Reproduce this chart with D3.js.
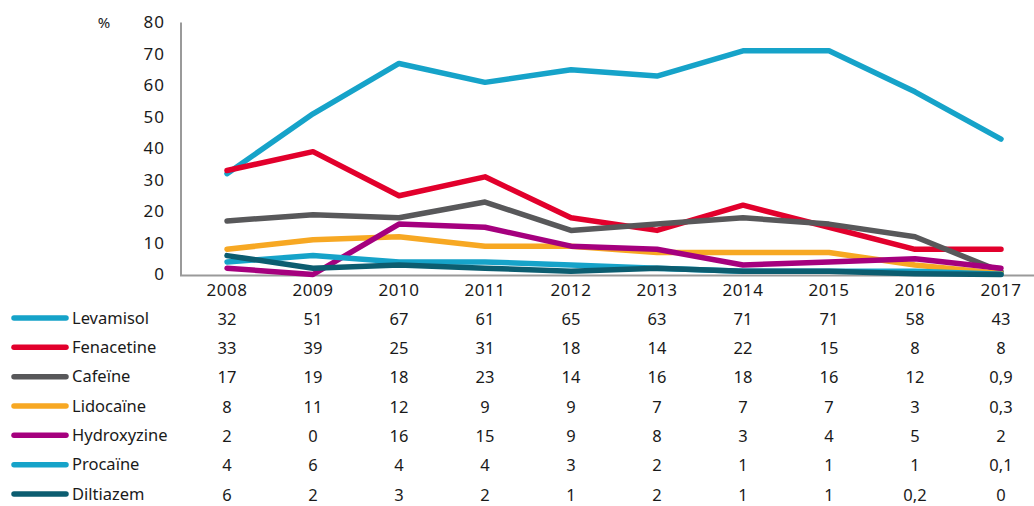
<!DOCTYPE html>
<html><head><meta charset="utf-8">
<script src="https://cdn.jsdelivr.net/npm/d3@7"></script>
<style>
body{margin:0;background:#fff;}
text{font-family:"Noto Sans","Open Sans",sans-serif;fill:#1a1a1a;}
</style></head>
<body><svg id="c" width="1034" height="506"></svg>
<script>
const years = [2008,2009,2010,2011,2012,2013,2014,2015,2016,2017];
const yTicks = [0,10,20,30,40,50,60,70,80];
const names = ["Levamisol","Fenacetine","Cafeïne","Lidocaïne","Hydroxyzine","Procaïne","Diltiazem"];
const colors = ["#16a3c9","#e2002c","#58585a","#f7a823","#a5007e","#16a3c9","#0c5d70"];
const levamisol   = [32,51,67,61,65,63,71,71,58,43];
const fenacetine  = [33,39,25,31,18,14,22,15,8,8];
const cafeine     = [17,19,18,23,14,16,18,16,12,0.9];
const lidocaine   = [8,11,12,9,9,7,7,7,3,0.3];
const hydroxyzine = [2,0,16,15,9,8,3,4,5,2];
const procaine    = [4,6,4,4,3,2,1,1,1,0.1];
const diltiazem   = [6,2,3,2,1,2,1,1,0.2,0];
const series = [levamisol,fenacetine,cafeine,lidocaine,hydroxyzine,procaine,diltiazem];

const svg = d3.select("#c");
const x = d3.scalePoint().domain(years).range([227,1001]);
const y = d3.scaleLinear().domain([0,80]).range([274.5,22.5]);

// axes lines
svg.append("line").attr("x1",181).attr("x2",181).attr("y1",y(80)).attr("y2",y(0)+1)
  .attr("stroke","#9a9a9a").attr("stroke-width",2);
svg.append("line").attr("x1",180).attr("x2",1034).attr("y1",y(0)+1).attr("y2",y(0)+1)
  .attr("stroke","#9a9a9a").attr("stroke-width",2);

// y ticks
svg.selectAll(".yt").data(yTicks).enter().append("text")
  .attr("x",165).attr("y",d=>y(d)).attr("dy","0.35em").attr("text-anchor","end")
  .attr("font-size",17).attr("letter-spacing",1).text(d=>d);
svg.append("text").attr("x",104).attr("y",23).attr("dy","0.35em").attr("text-anchor","middle")
  .attr("font-size",15).text("%");

// year labels
svg.selectAll(".xt").data(years).enter().append("text")
  .attr("x",d=>x(d)).attr("y",290).attr("dy","0.35em").attr("text-anchor","middle")
  .attr("font-size",17).attr("letter-spacing",0.5).text(d=>d);

// lines
const line = d3.line().x((d,i)=>x(years[i])).y(d=>y(d));
series.forEach((s,k)=>{
  svg.append("path").attr("d",line(s)).attr("fill","none")
    .attr("stroke",colors[k]).attr("stroke-width",5.5)
    .attr("stroke-linecap","round").attr("stroke-linejoin","round");
});

// table
const rowY = d3.scalePoint().domain(names).range([318,494]);
const fmt = v => String(v).replace(".",",");
names.forEach((n,k)=>{
  const ry = rowY(n);
  svg.append("line").attr("x1",14).attr("x2",66).attr("y1",ry).attr("y2",ry)
    .attr("stroke",colors[k]).attr("stroke-width",5.5).attr("stroke-linecap","round");
  svg.append("text").attr("x",72).attr("y",ry).attr("dy","0.35em")
    .attr("font-size",16.5).text(n);
  svg.selectAll(null).data(series[k]).enter().append("text")
    .attr("x",(d,i)=>x(years[i])).attr("y",ry+1).attr("dy","0.35em").attr("text-anchor","middle")
    .attr("font-size",16.5).text(d=>fmt(d));
});
</script></body></html>
